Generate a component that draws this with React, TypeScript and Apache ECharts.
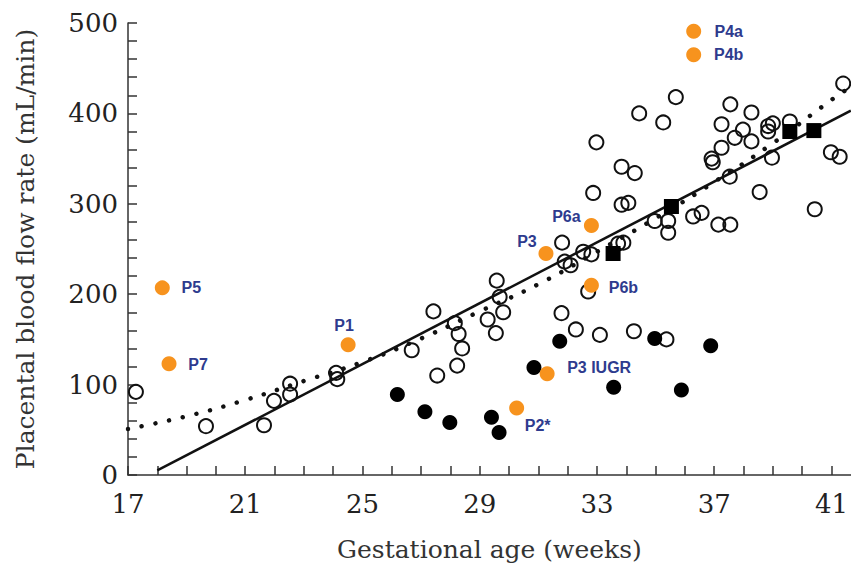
import React, { useEffect, useRef } from "react";
import * as echarts from "echarts";

const xTickLabels = [17, 21, 25, 29, 33, 37, 41];
const yTickLabels = [0, 100, 200, 300, 400, 500];

const openCircles: number[][] = [
  [17.27, 92], [19.66, 54], [21.64, 55], [21.98, 82], [22.53, 101], [22.53, 89], [24.1, 113], [24.14, 106],
  [26.68, 138], [27.42, 181], [27.55, 110], [28.15, 168], [28.28, 156], [28.4, 140], [28.23, 121],
  [29.27, 172], [29.55, 157], [29.8, 180], [29.58, 215], [29.68, 197],
  [31.81, 257], [31.9, 236], [32.1, 232], [32.53, 247], [32.81, 244], [32.7, 203], [33.72, 256], [33.9, 257],
  [31.79, 179], [32.28, 161], [33.1, 155], [34.26, 159], [35.37, 150],
  [32.87, 312], [33.84, 299], [34.07, 301], [32.98, 368], [33.84, 341], [34.29, 334],
  [34.97, 281], [35.43, 281], [35.43, 268], [36.28, 286], [36.57, 290], [37.14, 277], [37.55, 277],
  [34.44, 400], [35.26, 390], [35.69, 418], [37.55, 410], [38.27, 401], [37.25, 388], [37.98, 382],
  [37.7, 373], [38.27, 369], [37.25, 362], [38.84, 386], [39.0, 389], [39.58, 391], [38.84, 380],
  [38.97, 351], [36.91, 350], [36.95, 346], [37.53, 330], [38.55, 313], [40.43, 294], [40.98, 357],
  [41.28, 352], [41.4, 433],
];

const filledCircles: number[][] = [
  [26.19, 89], [27.13, 70], [27.98, 58], [29.4, 64], [29.66, 47], [30.85, 119],
  [31.73, 148], [33.57, 97], [34.97, 151], [35.88, 94], [36.88, 143],
];

const squares: number[][] = [
  [33.55, 245], [35.54, 297], [39.58, 380], [40.4, 381],
];

const patientNames = ["P5", "P7", "P1", "P2*", "P3 IUGR", "P3", "P6a", "P6b", "P4a", "P4b"];
const patientX = [18.17, 18.4, 24.51, 30.26, 31.3, 31.26, 32.81, 32.81, 36.3, 36.3];
const patientY = [207, 123, 144, 74, 112, 245, 276, 210, 491, 465];

const solidFit: number[][] = [[18, 5], [41.66, 403]];
const dottedFit: number[][] = [
  [17, 51], [19, 65], [21, 83], [23, 104], [25, 125], [27, 151], [29, 181],
  [31, 211], [33, 247], [35, 284], [37, 324], [39, 367], [41, 415], [41.5, 426],
];

// label offsets (px) from the dot centre: styling only
const labelOffsets: Record<string, number[]> = {
  "P5": [29, 0], "P7": [29, 1], "P1": [-4, -19], "P2*": [21, 17], "P3 IUGR": [52, -6],
  "P3": [-19, -12], "P6a": [-25, -9], "P6b": [32, 2], "P4a": [35, 0], "P4b": [35, 0],
};

export default function App() {
  const ref = useRef<HTMLDivElement>(null);
  useEffect(() => {
    document.body.style.margin = "0";
    const chart = echarts.init(ref.current!, null, { renderer: "svg" });
    const serif = "DejaVu Serif";
    const axisColor = "#333";
    chart.setOption({
      animation: false,
      backgroundColor: "#fff",
      grid: { left: 128, right: 0, top: 23, bottom: 96 },
      xAxis: {
        type: "value",
        min: 17,
        max: 41.66,
        interval: 1,
        name: "Gestational age (weeks)",
        nameLocation: "middle",
        nameGap: 62,
        nameTextStyle: { fontFamily: serif, fontSize: 25, color: "#333" },
        axisLine: { lineStyle: { color: axisColor, width: 1.5 } },
        axisTick: { inside: true, length: 9, lineStyle: { color: axisColor, width: 1.5 } },
        axisLabel: {
          fontFamily: serif, fontSize: 26, color: "#222", margin: 16,
          showMaxLabel: false,
          formatter: (v: number) => (xTickLabels.indexOf(v) >= 0 ? String(v) : ""),
        },
        splitLine: { show: false },
      },
      yAxis: {
        type: "value",
        min: 0,
        max: 500,
        interval: 20,
        name: "Placental blood flow rate (mL/min)",
        nameLocation: "middle",
        nameGap: 90,
        nameTextStyle: { fontFamily: serif, fontSize: 25, color: "#333" },
        axisLine: { show: true, lineStyle: { color: axisColor, width: 1.5 } },
        axisTick: { inside: true, length: 9, lineStyle: { color: axisColor, width: 1.5 } },
        axisLabel: {
          fontFamily: serif, fontSize: 26, color: "#222", margin: 10,
          formatter: (v: number) => (yTickLabels.indexOf(v) >= 0 ? String(v) : ""),
        },
        splitLine: { show: false },
      },
      series: [
        {
          type: "scatter",
          data: openCircles,
          symbol: "circle",
          symbolSize: 14,
          itemStyle: { color: "rgba(0,0,0,0)", borderColor: "#111", borderWidth: 2, opacity: 1 },
          z: 2,
        },
        {
          type: "line",
          data: dottedFit,
          smooth: true,
          symbol: "none",
          lineStyle: { color: "#111", width: 4.5, type: [0.01, 14], cap: "round" },
          z: 3,
        },
        {
          type: "line",
          data: solidFit,
          symbol: "none",
          lineStyle: { color: "#111", width: 2.5 },
          z: 3,
        },
        {
          type: "scatter",
          data: filledCircles,
          symbol: "circle",
          symbolSize: 15,
          itemStyle: { color: "#000", opacity: 1 },
          z: 4,
        },
        {
          type: "scatter",
          data: squares,
          symbol: "rect",
          symbolSize: 15,
          itemStyle: { color: "#000", opacity: 1 },
          z: 4,
        },
        {
          type: "scatter",
          symbol: "circle",
          symbolSize: 15,
          itemStyle: { color: "#f7931e", opacity: 1 },
          z: 5,
          data: patientNames.map((n, i) => ({
            name: n,
            value: [patientX[i], patientY[i]],
            label: {
              show: true,
              position: "inside",
              offset: labelOffsets[n],
              formatter: n,
              fontFamily: "Liberation Sans",
              fontWeight: "bold",
              fontSize: 16,
              color: "#2e3b8e",
            },
          })),
        },
      ],
    });
    return () => chart.dispose();
  }, []);
  return <div ref={ref} style={{ position: "absolute", left: 0, top: 0, width: 851, height: 571 }} />;
}
